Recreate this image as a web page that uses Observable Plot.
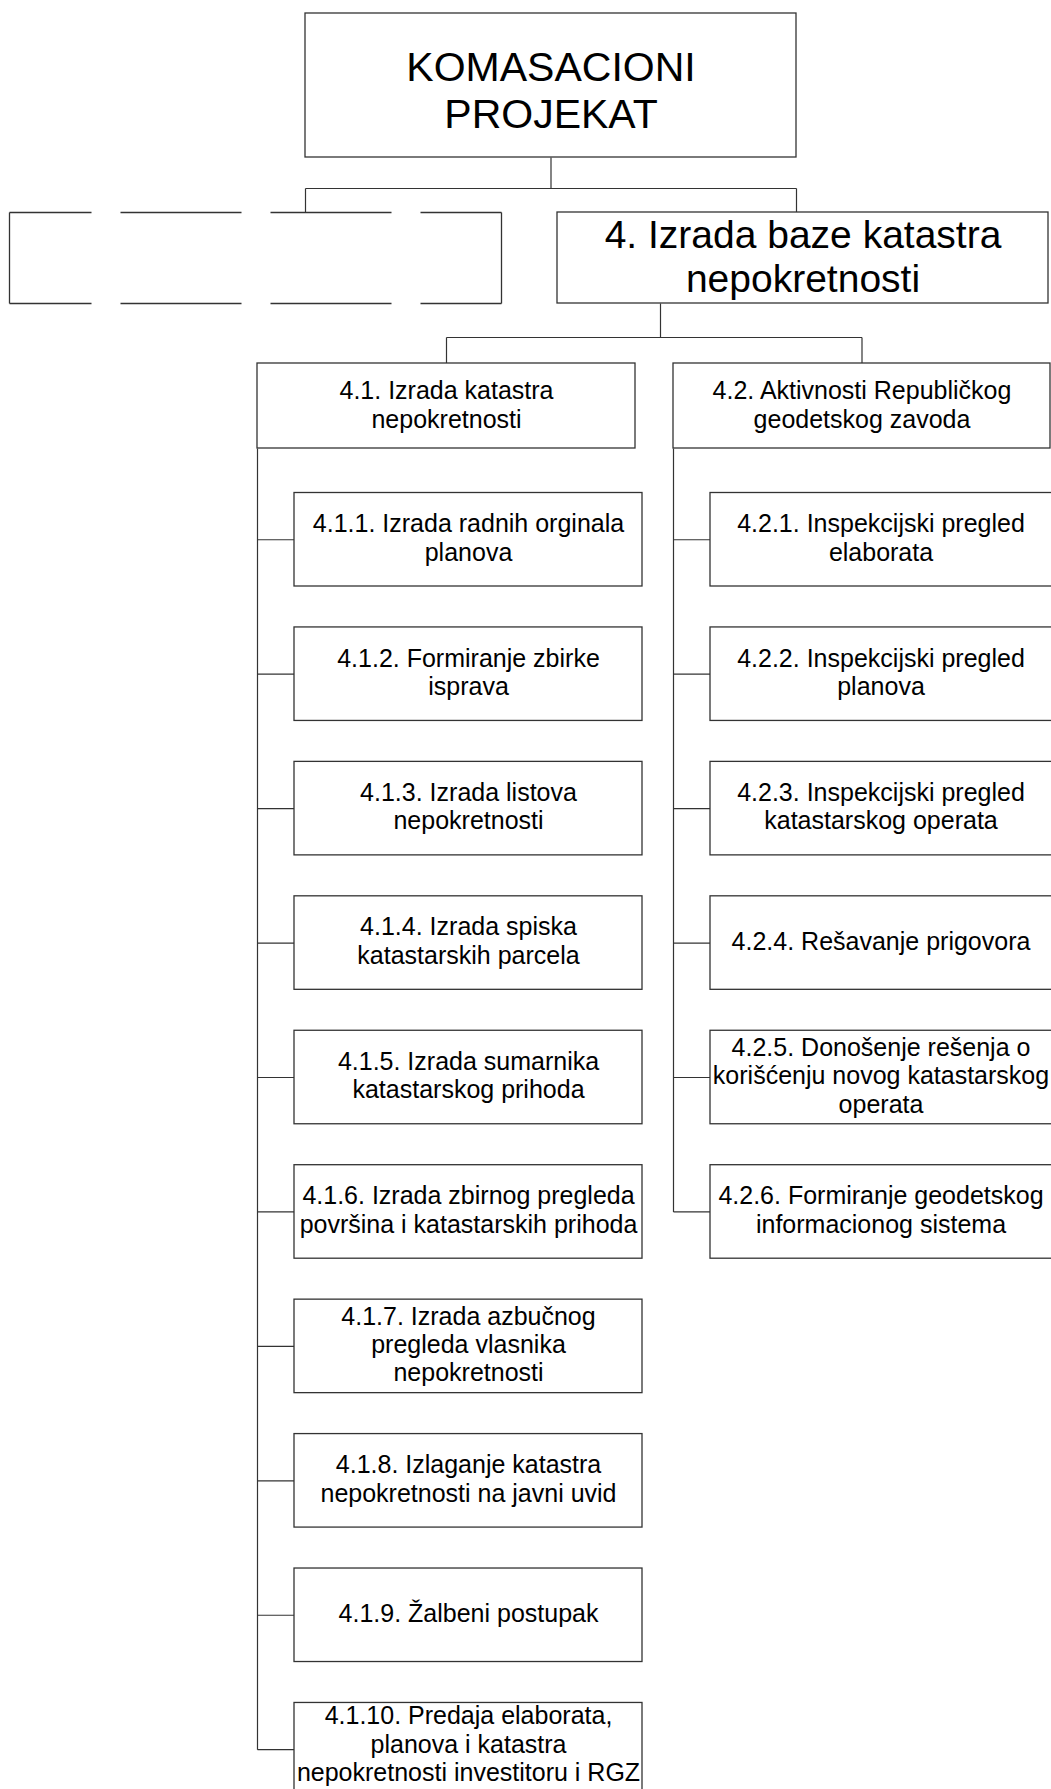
<!DOCTYPE html>
<html>
<head>
<meta charset="utf-8">
<script src="https://cdn.jsdelivr.net/npm/d3@7"></script>
<script src="https://cdn.jsdelivr.net/npm/@observablehq/plot@0.6"></script>
<style>
html, body { margin: 0; padding: 0; background: #fff; overflow: hidden; }
#chart svg { display: block; }
</style>
</head>
<body>
<div id="chart"></div>
<script>
// ---------- DATA (labels of the work-breakdown structure) ----------
const rootLabels = ["KOMASACIONI\nPROJEKAT"];
const phaseLabels = ["", "4. Izrada baze katastra\nnepokretnosti"];
const groupLabels = [
  "4.1. Izrada katastra\nnepokretnosti",
  "4.2. Aktivnosti Republičkog\ngeodetskog zavoda"
];
const tasks41 = [
  "4.1.1. Izrada radnih orginala\nplanova",
  "4.1.2. Formiranje zbirke\nisprava",
  "4.1.3. Izrada listova\nnepokretnosti",
  "4.1.4. Izrada spiska\nkatastarskih parcela",
  "4.1.5. Izrada sumarnika\nkatastarskog prihoda",
  "4.1.6. Izrada zbirnog pregleda\npovršina i katastarskih prihoda",
  "4.1.7. Izrada azbučnog\npregleda vlasnika\nnepokretnosti",
  "4.1.8. Izlaganje katastra\nnepokretnosti na javni uvid",
  "4.1.9. Žalbeni postupak",
  "4.1.10. Predaja elaborata,\nplanova i katastra\nnepokretnosti investitoru i RGZ"
];
const tasks42 = [
  "4.2.1. Inspekcijski pregled\nelaborata",
  "4.2.2. Inspekcijski pregled\nplanova",
  "4.2.3. Inspekcijski pregled\nkatastarskog operata",
  "4.2.4. Rešavanje prigovora",
  "4.2.5. Donošenje rešenja o\nkorišćenju novog katastarskog\noperata",
  "4.2.6. Formiranje geodetskog\ninformacionog sistema"
];

// ---------- LAYOUT (computed from structure) ----------
const W = 1051, H = 1789;
const rootBox = {x1: 305, x2: 796, y1: 13, y2: 157};
const phaseY = {y1: 212, y2: 303};
const phaseX = [{x1: 9, x2: 501}, {x1: 557, x2: 1048}];
const bus1Y = 188;
const bus2Y = 337, phaseDropX = 660;
const groupY = {y1: 363, y2: 448};
const groupX = [{x1: 257, x2: 635}, {x1: 673, x2: 1050}];
const childIndent = 37, childW = 348, childTop0 = 492.5, childStep = 134.44, childH = 93.5;

const cx = b => (b.x1 + b.x2) / 2;
const cy = b => (b.y1 + b.y2) / 2;
// centre of the visible part of a box (boxes may run past the page edge)
const vcx = b => (Math.max(b.x1, 0) + Math.min(b.x2, W)) / 2;
const vcy = b => (Math.max(b.y1, 0) + Math.min(b.y2, H)) / 2;

const root = rootLabels.map(label => ({...rootBox, label}));
const phases = phaseLabels.map((label, i) => ({...phaseX[i], ...phaseY, label}));
const groups = groupLabels.map((label, i) => ({...groupX[i], ...groupY, label}));
const children = [tasks41, tasks42].flatMap((list, g) => list.map((label, i) => {
  const x1 = groupX[g].x1 + childIndent;
  const y1 = childTop0 + i * childStep;
  return {x1, x2: x1 + childW, y1, y2: y1 + childH, label, g};
}));

// connectors
const links = [];
const r = root[0];
links.push({x1: cx(r), y1: r.y2, x2: cx(r), y2: bus1Y});
links.push({x1: r.x1, y1: bus1Y, x2: r.x2, y2: bus1Y});
links.push({x1: r.x1, y1: bus1Y, x2: r.x1, y2: phaseY.y1});
links.push({x1: r.x2, y1: bus1Y, x2: r.x2, y2: phaseY.y1});
links.push({x1: phaseDropX, y1: phaseY.y2, x2: phaseDropX, y2: bus2Y});
links.push({x1: cx(groups[0]), y1: bus2Y, x2: cx(groups[1]), y2: bus2Y});
groups.forEach(gb => links.push({x1: cx(gb), y1: bus2Y, x2: cx(gb), y2: gb.y1}));
groups.forEach((gb, g) => {
  const kids = children.filter(c => c.g === g);
  const last = kids[kids.length - 1];
  links.push({x1: gb.x1, y1: gb.y2, x2: gb.x1, y2: cy(last)});
  kids.forEach(k => links.push({x1: gb.x1, y1: cy(k), x2: k.x1, y2: cy(k)}));
});

// dashed placeholder box
const ph = phases[0];
const dashedEdges = [
  {x1: ph.x1, y1: ph.y1, x2: ph.x2, y2: ph.y1},
  {x1: ph.x1, y1: ph.y2, x2: ph.x2, y2: ph.y2}
];
const solidEdges = [
  {x1: ph.x1, y1: ph.y1, x2: ph.x1, y2: ph.y2},
  {x1: ph.x2, y1: ph.y1, x2: ph.x2, y2: ph.y2}
];

const STROKE = "#333";
const boxOpts = {x1: "x1", x2: "x2", y1: "y1", y2: "y2", fill: "white", stroke: STROKE, strokeWidth: 1.3};
const linkOpts = {x1: "x1", y1: "y1", x2: "x2", y2: "y2", stroke: STROKE, strokeWidth: 1.2};
const textOpts = (size, lh, dy) => ({
  x: d => vcx(d), y: d => vcy(d) + dy, text: "label",
  fontSize: size, lineHeight: lh, textAnchor: "middle", fill: "black"
});

const chart = Plot.plot({
  width: W,
  height: H,
  margin: 0,
  style: {fontFamily: "'Liberation Sans', Arial, sans-serif", background: "white"},
  x: {type: "linear", domain: [0, W], range: [0, W], axis: null},
  y: {type: "linear", domain: [0, H], range: [0, H], axis: null},
  marks: [
    Plot.link(links, linkOpts),
    Plot.rect(root, boxOpts),
    Plot.rect([phases[1]], boxOpts),
    Plot.rect(groups, boxOpts),
    Plot.rect(children, boxOpts),
    Plot.link(dashedEdges, {...linkOpts, strokeWidth: 1.3, strokeDasharray: "121,29", strokeDashoffset: 39}),
    Plot.link(solidEdges, {...linkOpts, strokeWidth: 1.3}),
    Plot.text(root, textOpts(41, 1.15, 3.5)),
    Plot.text([phases[1]], textOpts(39, 1.13, -2)),
    Plot.text(groups, textOpts(25, 1.15, -2)),
    Plot.text(children, textOpts(25, 1.14, -2.5))
  ]
});
document.getElementById("chart").appendChild(chart);
</script>
</body>
</html>
